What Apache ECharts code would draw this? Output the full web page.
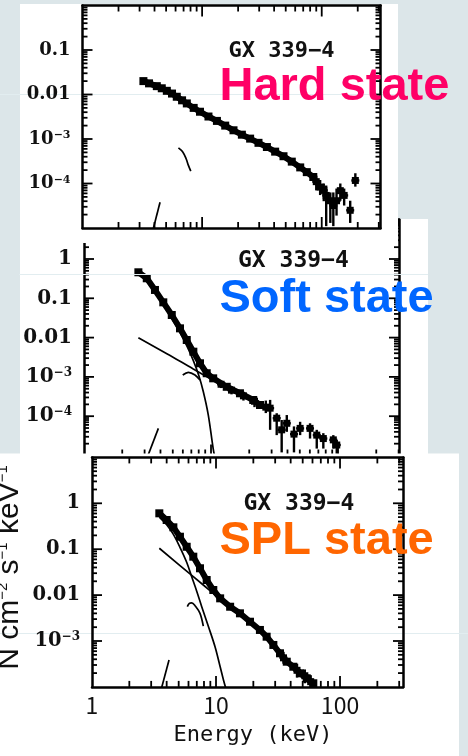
<!DOCTYPE html>
<html><head><meta charset="utf-8">
<script src="https://cdn.jsdelivr.net/npm/echarts@6/dist/echarts.min.js"></script>
<style>html,body{margin:0;padding:0;background:#dce6e9;}#c{width:468px;height:756px;}</style>
</head><body><div id="c"></div>
<script>
// ================= DATA =================
const xTickLabels = ['1', '10', '100'];
const yTickText = { '0': '1', '-1': '0.1', '-2': '0.01', '-3': '10|\u22123', '-4': '10|\u22124' };
const xTitle = 'Energy (keV)';
const yTitle = ['N cm', '\u22122', ' s', '\u22121', ' keV', '\u22121'];
const sourceName = 'GX 339\u22124';
const stateNames = ['Hard state', 'Soft state', 'SPL state'];

// ---- Hard state ----
const hardE = [3.23, 3.6, 4.18, 4.6, 5.07, 5.6, 6.14, 6.8, 7.45, 8.5, 9.6, 11.3, 13.3, 15.6, 18.3, 21.5, 25.2, 29.6, 34.8, 40.8, 47.9, 56.2, 66.1, 75, 85];
const hardF = [0.020, 0.0178, 0.0154, 0.0138, 0.0121, 0.0105, 0.0089, 0.0074, 0.0063, 0.0050, 0.0041, 0.0032, 0.00255, 0.0020, 0.00157, 0.00125, 0.00102, 0.00082, 0.00066, 0.00052, 0.00041, 0.00031, 0.00023, 0.00018, 0.00014];
const hardTailE  = [90, 97, 104, 109, 118, 125, 133, 143, 154, 173, 191];
const hardTailF  = [1.1e-4, 8.3e-5, 7.0e-5, 5.4e-5, 4.1e-5, 3.2e-5, 4.1e-5, 6.9e-5, 5.4e-5, 2.5e-5, 1.17e-4];
const hardTailLo = [7e-5, 5.5e-5, 4e-5, 1.1e-5, 1.3e-5, 1.1e-5, 1.9e-5, 4.1e-5, 3.2e-5, 1.3e-5, 8.5e-5];
const hardTailHi = [1.5e-4, 1.2e-4, 1.0e-4, 9e-5, 6.3e-5, 6.3e-5, 7.7e-5, 1.0e-4, 7.7e-5, 4.1e-5, 1.7e-4];
const hardIronE = [6.34, 6.89, 7.35, 7.68, 8.04];
const hardIronF = [6.3e-4, 5.1e-4, 3.6e-4, 2.55e-4, 1.9e-4];
const hardEdgeE = [3.9, 4.45];
const hardEdgeF = [9.5e-6, 3.8e-5];

// ---- Soft state ----
const softE = [2.68, 3.12, 3.62, 4.21, 4.91, 5.70, 6.44, 7.26, 8.19, 9.25, 10.4, 13.3, 16.9, 21.5, 24.3];
const softF = [0.459, 0.323, 0.163, 0.079, 0.0376, 0.0172, 0.0087, 0.00438, 0.00222, 0.00124, 9.2e-4, 5.6e-4, 3.83e-4, 2.58e-4, 1.93e-4];
const softTailE  = [12, 14.5, 18, 22, 27, 29.2, 32.9, 36, 39.5, 45, 50.3, 60.2, 68, 76.6, 91.8, 97.7];
const softTailF  = [6.5e-4, 4.6e-4, 3.3e-4, 2.4e-4, 1.7e-4, 1.6e-4, 8.9e-5, 4.5e-5, 6.6e-5, 3.5e-5, 4.9e-5, 4.9e-5, 3.3e-5, 2.7e-5, 2.5e-5, 1.85e-5];
const softTailLo = [5.2e-4, 3.6e-4, 2.5e-4, 1.7e-4, 1.2e-4, 4.5e-5, 3.3e-5, 1.2e-5, 4.0e-5, 1.2e-5, 3.3e-5, 2.7e-5, 1.5e-5, 1.5e-5, 1.5e-5, 1.1e-5];
const softTailHi = [8e-4, 5.8e-4, 4.2e-4, 3.2e-4, 2.5e-4, 2.6e-4, 1.19e-4, 8e-5, 1.07e-4, 5.5e-5, 7.2e-5, 6.6e-5, 4.5e-5, 3.7e-5, 3.3e-5, 2.5e-5];
const softPlE = [2.68, 4.49, 7.25, 12];
const softPlF = [0.0099, 0.0039, 0.00159, 6.3e-4];
const softDiskE = [2.68, 3.12, 3.62, 4.21, 4.91, 5.7, 6.44, 7.26, 8.0, 8.7, 9.52, 10.4, 10.8];
const softDiskF = [0.42, 0.29, 0.145, 0.069, 0.031, 0.0135, 0.0062, 0.0026, 0.0011, 4.2e-4, 1.07e-4, 1.5e-5, 8e-6];
const softIronE = [5.99, 6.63, 7.48, 8.19];
const softIronF = [1.12e-3, 1.31e-3, 1.12e-3, 8.3e-4];
const softEdgeE = [3.15, 3.85];
const softEdgeF = [9e-6, 4.9e-5];

// ---- SPL state ----
const splE = [3.49, 4.00, 4.53, 5.12, 5.80, 6.56, 7.43, 8.41, 9.51, 10.8, 13.0, 15.6, 18.8, 22.6, 25.6, 29.0, 32.8, 37.2, 42.0, 47.6, 53.9, 60.9];
const splF = [0.605, 0.433, 0.300, 0.187, 0.113, 0.0687, 0.0384, 0.0213, 0.0129, 0.0085, 0.00558, 0.00401, 0.00263, 0.00174, 0.00124, 8.2e-4, 5.4e-4, 3.54e-4, 2.75e-4, 1.98e-4, 1.54e-4, 1.2e-4];
const splTailE  = [35, 45, 52, 58];
const splTailF  = [4.3e-4, 2.3e-4, 1.75e-4, 1.3e-4];
const splTailLo = [3.2e-4, 1.6e-4, 1.2e-4, 1.0e-4];
const splTailHi = [5.8e-4, 3.2e-4, 2.4e-4, 1.8e-4];
const splPlE = [3.49, 6.56, 9.51, 14];
const splPlF = [0.105, 0.0252, 0.0109, 0.0045];
const splDiskE = [3.49, 4.0, 4.53, 5.12, 5.8, 6.37, 7.0, 7.67, 8.67, 9.82, 10.8, 11.5, 12.2];
const splDiskF = [0.5, 0.34, 0.21, 0.11, 0.052, 0.025, 0.012, 0.0056, 0.0021, 7.5e-4, 2.75e-4, 1.4e-4, 8e-5];
const splIronE = [5.87, 6.1, 6.37, 6.8, 7.43, 7.9];
const splIronF = [0.0056, 0.0066, 0.0068, 0.0058, 0.004, 0.0021];
const splEdgeE = [3.62, 4.18];
const splEdgeF = [9e-5, 3.86e-4];

// ================= LAYOUT / STYLE =================
const BG = '#dce6e9';
const INK = '#000';
const panels = [
  { grid: { left: 82.5, top: 5.5, width: 298, height: 222.5 }, xMax: 310, yMin: 1e-5, yMax: 1, z: 10,
    paper: { x: 20, y: 4, width: 378, height: 239 }, labelSize: 18, supSize: 11, xLabels: false,
    gx: { x: 228.5, y: 51, size: 22 }, state: { x: 219.5, y: 87.4, color: '#ff0066' }, guide: { y: 94.5, x1: 0, x2: 398 },
    band: [hardE, hardF], tail: [hardTailE, hardTailF, hardTailLo, hardTailHi],
    models: [[hardIronE, hardIronF], [hardEdgeE, hardEdgeF]] },
  { grid: { left: 84, top: 219.7, width: 315, height: 235.8 }, xMax: 302, yMin: 1e-5, yMax: 10, z: 1,
    paper: { x: 20, y: 219, width: 408, height: 240 }, labelSize: 20, supSize: 12, xLabels: false,
    gx: { x: 238, y: 261.3, size: 23 }, state: { x: 219.5, y: 299, color: '#0066ff' }, guide: { y: 274.5, x1: 19, x2: 428 },
    band: [softE, softF], tail: [softTailE, softTailF, softTailLo, softTailHi],
    models: [[softPlE, softPlF], [softDiskE, softDiskF], [softIronE, softIronF], [softEdgeE, softEdgeF]] },
  { grid: { left: 92, top: 457.4, width: 311, height: 229.5 }, xMax: 322, yMin: 1e-4, yMax: 10, z: 10,
    paper: { x: 0, y: 453.5, width: 459, height: 303 }, labelSize: 19.5, supSize: 12, xLabels: true,
    gx: { x: 243.5, y: 504.2, size: 23 }, state: { x: 219.5, y: 540.7, color: '#ff6600' }, guide: { y: 633.5, x1: 0, x2: 468 },
    band: [splE, splF], tail: [splTailE, splTailF, splTailLo, splTailHi],
    models: [[splPlE, splPlF], [splDiskE, splDiskF], [splIronE, splIronF], [splEdgeE, splEdgeF]] }
];

// ================= BUILD =================
const grids = [], xAxes = [], yAxes = [], series = [], gfx = [];
const pairs = (E, F) => E.map((e, i) => [e, F[i]]);

panels.forEach((P, p) => {
  const zA = P.z + 2, zS = P.z + 3;
  grids.push(Object.assign({ containLabel: false, show: false }, P.grid));
  const y0 = Math.round(Math.log10(P.yMin)), y1 = Math.round(Math.log10(P.yMax));
  const line = { color: INK, width: 2.5 };

  const xMain = {
    type: 'log', logBase: 10, gridIndex: p, min: 1, max: P.xMax, position: 'bottom', z: zA,
    axisLine: { show: true, onZero: false, lineStyle: line },
    axisTick: { show: false }, splitLine: { show: false }, minorTick: { show: false },
    axisLabel: { show: false }
  };
  if (P.xLabels) {
    xMain.axisLabel = {
      show: true, margin: 7, color: '#111', fontFamily: 'Noto Sans CJK JP', fontSize: 23,
      formatter: v => { const k = Math.log10(v), r = Math.round(k); return (Math.abs(k - r) < 1e-6 && xTickLabels[r] != null) ? xTickLabels[r] : ''; }
    };
    xMain.name = xTitle;
    xMain.nameLocation = 'middle';
    xMain.nameGap = 37;
    xMain.nameTextStyle = { fontFamily: 'DejaVu Sans Mono', fontSize: 22, color: '#111', padding: [0, 0, 0, 11] };
  }
  xAxes.push(xMain);
  yAxes.push({
    type: 'log', logBase: 10, gridIndex: p, min: P.yMin, max: P.yMax, position: 'left', z: zA,
    axisLine: { show: true, onZero: false, lineStyle: line },
    axisTick: { show: false }, splitLine: { show: false }, minorTick: { show: false },
    axisLabel: {
      show: true, margin: 12,
      formatter: v => {
        const lv = Math.log10(v), k = Math.round(lv);
        if (Math.abs(lv - k) > 1e-6 || k <= y0 || k >= y1) return '';
        const t = yTickText[String(k)];
        if (!t) return '';
        const parts = t.split('|');
        return parts[1] ? '{b|' + parts[0] + '}{s|' + parts[1] + '}' : '{b|' + parts[0] + '}';
      },
      rich: {
        b: { fontFamily: 'DejaVu Serif', fontWeight: 'bold', fontSize: P.labelSize, color: '#111' },
        s: { fontFamily: 'DejaVu Serif', fontWeight: 'bold', fontSize: P.supSize, color: '#111', verticalAlign: 'top' }
      }
    }
  });
  xAxes.push({ type: 'log', logBase: 10, gridIndex: p, min: 1, max: P.xMax, position: 'top', z: zA,
    axisLine: { show: true, onZero: false, lineStyle: line }, axisTick: { show: false }, axisLabel: { show: false }, splitLine: { show: false } });
  yAxes.push({ type: 'log', logBase: 10, gridIndex: p, min: P.yMin, max: P.yMax, position: 'right', z: zA,
    axisLine: { show: true, onZero: false, lineStyle: line }, axisTick: { show: false }, axisLabel: { show: false }, splitLine: { show: false } });

  const xi = 2 * p, yi = 2 * p;

  series.push({
    type: 'line', xAxisIndex: xi, yAxisIndex: yi, z: zS, silent: true,
    data: pairs(P.band[0], P.band[1]), symbol: 'rect', symbolSize: 8, showSymbol: true, showAllSymbol: true,
    lineStyle: { color: INK, width: 6 }, itemStyle: { color: INK }
  });

  // rows: [x, y, lo, hi, kind]; kind 0 = measured point with error bar,
  // 1/2 = major/minor tick on the energy axis, 3/4 = major/minor tick on the flux axis
  // (tick rows use interior reference coordinates only; the frame edges come from the grid box)
  const T = P.tail;
  const rows = T[0].map((e, i) => [e, T[1][i], T[2][i], T[3][i], 0]);
  const yRef = P.yMin * 30, xRef = 2.5;
  for (let d = 0; d <= 2; d++) {
    for (let k = 1; k <= 9; k++) {
      const v = k * Math.pow(10, d);
      if (v <= 1.0001) continue;
      if (v >= P.xMax) break;
      rows.push([v, yRef, yRef, yRef, k === 1 ? 1 : 2]);
    }
  }
  for (let n = y0; n < y1; n++) {
    for (let k = 1; k <= 9; k++) {
      if (n === y0 && k === 1) continue;
      const v = k * Math.pow(10, n);
      rows.push([xRef, v, v, v, k === 1 ? 3 : 4]);
    }
  }
  const G = P.grid;
  const L = G.left, R = G.left + G.width, TOP = G.top, BOT = G.top + G.height;
  series.push({
    type: 'custom', xAxisIndex: xi, yAxisIndex: yi, z: zS, silent: true,
    data: rows,
    encode: { x: 0, y: 1 },
    renderItem: (params, api) => {
      const kind = api.value(4);
      if (kind === 0) {
        const c = api.coord([api.value(0), api.value(1)]);
        const lo = api.coord([api.value(0), api.value(2)]);
        const hi = api.coord([api.value(0), api.value(3)]);
        return {
          type: 'group', children: [
            { type: 'line', shape: { x1: c[0], y1: lo[1], x2: c[0], y2: hi[1] }, style: { stroke: INK, lineWidth: 2.4 } },
            { type: 'line', shape: { x1: c[0] - 4, y1: c[1], x2: c[0] + 4, y2: c[1] }, style: { stroke: INK, lineWidth: 2.4 } },
            { type: 'rect', shape: { x: c[0] - 3.5, y: c[1] - 3.5, width: 7, height: 7 }, style: { fill: INK } }
          ]
        };
      }
      const c = api.coord([api.value(0), api.value(1)]);
      const st = { stroke: INK, lineWidth: 1.8 };
      if (kind === 1 || kind === 2) {
        const px = c[0];
        const len = kind === 1 ? 11 : 6;
        return { type: 'group', children: [
          { type: 'line', shape: { x1: px, y1: BOT, x2: px, y2: BOT - len }, style: st },
          { type: 'line', shape: { x1: px, y1: TOP, x2: px, y2: TOP + len }, style: st }
        ] };
      }
      const py = c[1];
      const len = kind === 3 ? 10 : 5;
      return { type: 'group', children: [
        { type: 'line', shape: { x1: L, y1: py, x2: L + len, y2: py }, style: st },
        { type: 'line', shape: { x1: R, y1: py, x2: R - len, y2: py }, style: st }
      ] };
    }
  });
  P.models.forEach(m => {
    series.push({
      type: 'line', xAxisIndex: xi, yAxisIndex: yi, z: zS, silent: true,
      data: pairs(m[0], m[1]), symbol: 'none', smooth: 0.35,
      lineStyle: { color: INK, width: 1.7 }
    });
  });

  gfx.push({ type: 'rect', z: P.z, silent: true, shape: P.paper, style: { fill: '#ffffff' } });
  gfx.push({ type: 'line', z: 11, silent: true, shape: { x1: P.guide.x1, y1: P.guide.y, x2: P.guide.x2, y2: P.guide.y }, style: { stroke: '#e2edf0', lineWidth: 1 } });
  gfx.push({ type: 'text', z: P.z + 4, silent: true, x: P.gx.x, y: P.gx.y,
    style: { text: sourceName, fill: '#111', font: 'bold ' + P.gx.size + 'px "DejaVu Sans Mono"', align: 'left', verticalAlign: 'middle', textAlign: 'left', textVerticalAlign: 'middle' } });
  gfx.push({ type: 'text', z: 30, silent: true, x: P.state.x, y: P.state.y,
    style: { text: stateNames[p], fill: P.state.color, font: 'bold 47px "Liberation Sans"', align: 'left', verticalAlign: 'middle', textAlign: 'left', textVerticalAlign: 'middle' } });
});

gfx.push({
  type: 'text', z: 30, silent: true, x: 10, y: 567.5, rotation: Math.PI / 2,
  style: {
    text: '{n|' + yTitle[0] + '}{s|' + yTitle[1] + '}{n|' + yTitle[2] + '}{s|' + yTitle[3] + '}{n|' + yTitle[4] + '}{s|' + yTitle[5] + '}',
    align: 'center', verticalAlign: 'middle', textAlign: 'center', textVerticalAlign: 'middle',
    rich: {
      n: { fontFamily: 'Liberation Sans', fontSize: 30, fill: '#111', color: '#111' },
      s: { fontFamily: 'Liberation Sans', fontSize: 15, fill: '#111', color: '#111', verticalAlign: 'top' }
    }
  }
});

const chart = echarts.init(document.getElementById('c'), null, { renderer: 'canvas', width: 468, height: 756 });
chart.setOption({
  backgroundColor: BG,
  animation: false,
  grid: grids,
  xAxis: xAxes,
  yAxis: yAxes,
  series: series,
  graphic: { elements: gfx }
});
</script>
</body></html>
